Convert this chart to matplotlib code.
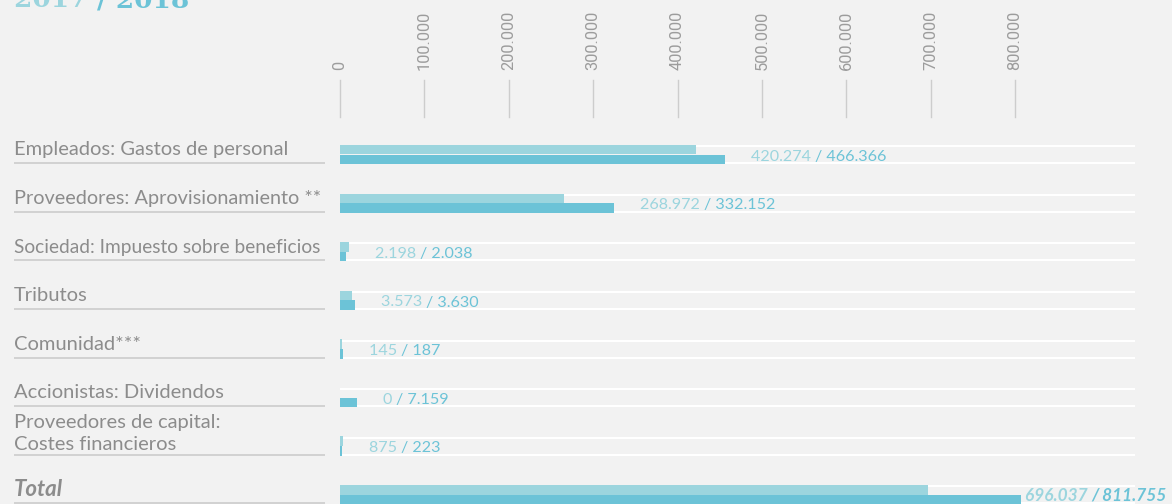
import matplotlib
matplotlib.use("Agg")
import matplotlib.pyplot as plt

# ---------------- data ----------------
categories = [
    "Empleados: Gastos de personal",
    "Proveedores: Aprovisionamiento **",
    "Sociedad: Impuesto sobre beneficios",
    "Tributos",
    "Comunidad***",
    "Accionistas: Dividendos",
    "Proveedores de capital:\nCostes financieros",
    "Total",
]
labels_2017 = ["420.274", "268.972", "2.198", "3.573", "145", "0", "875", "696.037"]
labels_2018 = ["466.366", "332.152", "2.038", "3.630", "187", "7.159", "223", "811.755"]
# bar lengths as drawn in the picture
bars_2017 = [421900, 265500, 10700, 14200, 2400, 0, 3600, 696500]
bars_2018 = [456300, 324700, 7100, 17800, 3600, 20100, 2400, 807100]
tick_values = [0, 100000, 200000, 300000, 400000, 500000, 600000, 700000, 800000]
tick_labels = ["0", "100.000", "200.000", "300.000", "400.000", "500.000",
               "600.000", "700.000", "800.000"]
title_2017 = "2017 "
title_2018 = "/ 2018"

# ---------------- style ----------------
W, H = 1172, 504
BG = "#f2f2f2"
LIGHT = "#9cd5de"
DARK = "#6cc3d7"
LABEL_C = "#8c8c8c"
TICK_C = "#9c9c9c"
GRID_C = "#cdcdcd"
ULINE_C = "#cccccc"
FONT = "Lato"

X0_PX = 340.0
PX_PER_UNIT = 675.0 / 800000
ROW0_PX = 154.5
ROW_PITCH = 48.6

fig = plt.figure(figsize=(W / 100, H / 100), dpi=100, facecolor=BG)
ax = fig.add_axes([0, 0, 1, 1])
ax.set_facecolor(BG)
ax.set_xlim(-X0_PX / PX_PER_UNIT, (W - X0_PX) / PX_PER_UNIT)
ax.set_ylim((H - ROW0_PX) / ROW_PITCH, -ROW0_PX / ROW_PITCH)
ax.axis("off")
renderer = fig.canvas.get_renderer()


def px_x(p):
    return (p - X0_PX) / PX_PER_UNIT


def px_y(p):
    return (p - ROW0_PX) / ROW_PITCH


def dy(p):
    return p / ROW_PITCH


def width_px(t):
    return t.get_window_extent(renderer).width


def fit_size(text, target, **kw):
    t = ax.text(0, 0, text, fontsize=20, **kw)
    w = width_px(t)
    t.remove()
    return 20 * target / w


n = len(categories)
ys = list(range(n))
bar_h = dy(9.6)

# bars
ax.barh([y - bar_h / 2 for y in ys], bars_2017, height=bar_h, color=LIGHT, zorder=3)
ax.barh([y + bar_h / 2 for y in ys], bars_2018, height=bar_h, color=DARK, zorder=3)

# white row guide lines
for y in ys:
    for off in (-8.4, 8.6):
        ax.plot([0, px_x(1135)], [y + dy(off), y + dy(off)], color="white",
                lw=1.5, zorder=2, solid_capstyle="butt")

# category labels + underline
lab_size = fit_size(categories[0], 276, family=FONT)
total_lab_size = fit_size("Total", 49, family=FONT, fontweight="bold", fontstyle="italic")
for y, cat in zip(ys, categories):
    lines = cat.split("\n")
    total = cat == "Total"
    base = y + dy(0.8 + 3.5 * (len(lines) - 1))
    for k, line in enumerate(reversed(lines)):
        t = ax.text(px_x(14), base - dy(22.7 * k), line,
                    fontsize=total_lab_size if total else lab_size,
                    family=FONT, color=LABEL_C, va="baseline", ha="left",
                    fontweight="bold" if total else "normal",
                    fontstyle="italic" if total else "normal")
        w = width_px(t)
        if w > 306:
            t.set_fontsize(lab_size * 306 / w)
    ax.plot([px_x(14), px_x(325)], [y + dy(8.6)] * 2, color=ULINE_C, lw=1.2,
            solid_capstyle="butt", zorder=2)

# value labels
val_size = fit_size("420.274 / 466.366", 135, family=FONT)
tot_val_size = fit_size("696.037 / 811.755", 142, family=FONT,
                        fontweight="bold", fontstyle="italic")
for y, a, b, l1, l2, cat in zip(ys, bars_2017, bars_2018, labels_2017, labels_2018, categories):
    total = cat == "Total"
    kw = dict(family=FONT, fontsize=tot_val_size if total else val_size,
              va="baseline", ha="left",
              fontweight="bold" if total else "normal",
              fontstyle="italic" if total else "normal")
    end_px = X0_PX + max(a, b) * PX_PER_UNIT
    start = end_px + 26
    t1 = ax.text(px_x(start), y + dy(6.2), l1 + " ", color=LIGHT, zorder=4, **kw)
    w1 = width_px(t1)
    t2 = ax.text(px_x(start + w1), y + dy(6.2), "/ " + l2, color=DARK, zorder=4, **kw)
    w2 = width_px(t2)
    if start + w1 + w2 > 1167:
        start = 1167 - w1 - w2
        t1.set_x(px_x(start))
        t2.set_x(px_x(start + w1))

# top tick marks and rotated tick labels
for v in tick_values:
    ax.plot([v, v], [px_y(80), px_y(116.5)], color=GRID_C, lw=1.0, zorder=1)
probe = ax.text(0, 0, "100.000", fontsize=20, family="Roboto", rotation=90)
tick_size = 20 * 60 / probe.get_window_extent(renderer).height
probe.remove()
for v, lab in zip(tick_values, tick_labels):
    ax.text(v, px_y(70.5), lab, rotation=90, ha="center", va="bottom",
            fontsize=tick_size, family="Roboto", color=TICK_C)

# partially visible title at the top-left (cut off by the top edge, as in the source)
tt1 = ax.text(px_x(14), px_y(7), title_2017, family="DejaVu Serif", fontweight="bold",
              fontsize=19, color=LIGHT, va="baseline", ha="left")
w = width_px(tt1)
ax.text(px_x(14 + w), px_y(7), title_2018, family="DejaVu Serif", fontweight="bold",
        fontsize=19, color=DARK, va="baseline", ha="left")

fig.savefig("out.png", dpi=100, facecolor=BG)
